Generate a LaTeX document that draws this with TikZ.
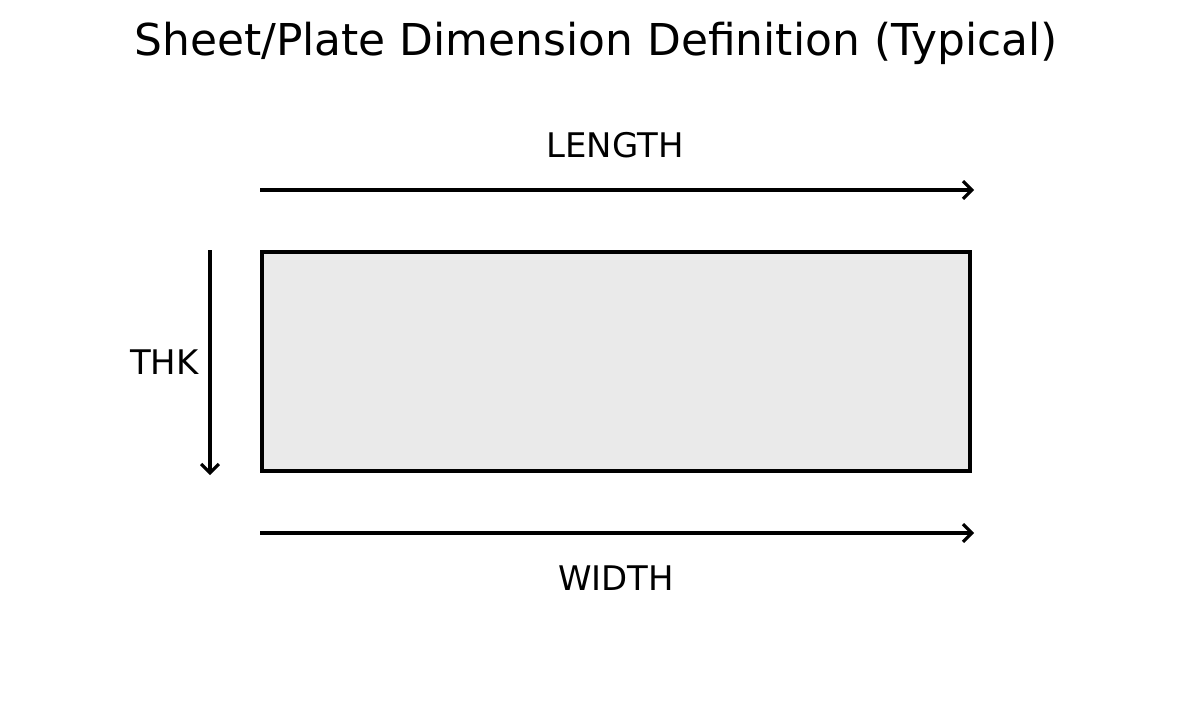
\documentclass[tikz,border=0pt]{standalone}
\usepackage{fontspec}
\setmainfont{DejaVu Sans}
\usepackage{tikz}
\usetikzlibrary{arrows.meta}
\definecolor{plategray}{HTML}{EAEAEA}
\tikzset{dimarrow/.style={line width=2pt, -{Straight Barb[length=5pt,width=10pt,line width=1.8pt]}},
  dimlabel/.style={font=\fontsize{19.3}{23}\selectfont, inner sep=0pt}}

\begin{document}
\begin{tikzpicture}[x=0.02cm, y=-0.02cm]
\useasboundingbox (0,0) rectangle (1192,723);
\path (596,43) node[inner sep=0pt, font=\fontsize{25}{30}\selectfont] (title) {Sheet/Plate Dimension Definition (Typical)};

\draw[line width=2.7pt, fill=plategray] (262,252) rectangle (970,471);

\coordinate (lenstart) at (260,190);
\coordinate (lenend) at (974,190);
\draw[dimarrow] (lenstart) -- (lenend);
\path (615,145) node[dimlabel] (length) {LENGTH};

\coordinate (widstart) at (260,533);
\coordinate (widend) at (974,533);
\draw[dimarrow] (widstart) -- (widend);
\path (616,578) node[dimlabel] (width) {WIDTH};

\coordinate (thkstart) at (210,250);
\coordinate (thkend) at (210,475);
\draw[dimarrow] (thkstart) -- (thkend);
\path (199,362) node[dimlabel, anchor=east] (thk) {THK};
\end{tikzpicture}
\end{document}
